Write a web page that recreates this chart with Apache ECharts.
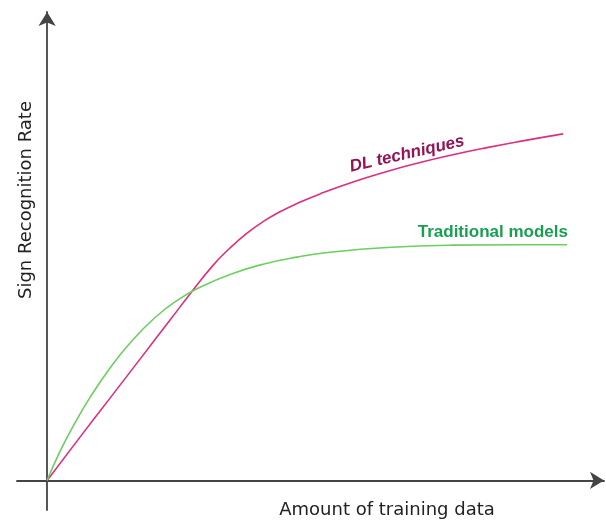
<!DOCTYPE html>
<html>
<head>
<meta charset="utf-8">
<script src="https://cdn.jsdelivr.net/npm/echarts@6/dist/echarts.min.js"></script>
<style>
html,body{margin:0;padding:0;background:#fff;}
#chart{width:606px;height:522px;}
</style>
</head>
<body>
<div id="chart"></div>
<script>
// Data (x: amount of training data, y: sign recognition rate; arbitrary units)
const dlX   = [0, 6.33, 12.11, 17.88, 23.66, 27.50, 31.93, 35.21, 38.48, 41.56, 44.83, 48.10, 52.53, 58.88, 65.42, 71.77, 78.13, 84.68, 91.03, 99.31];
const dlY   = [0, 8.78, 16.69, 24.60, 32.52, 37.81, 43.61, 47.14, 50.14, 52.47, 54.48, 56.15, 58.11, 60.53, 62.66, 64.46, 66.04, 67.49, 68.76, 70.28];
const tradX = [0, 2.48, 5.37, 8.26, 12.11, 15.96, 20.78, 25.20, 29.43, 35.21, 41.56, 48.10, 54.45, 65.42, 78.13, 91.03, 100.08];
const tradY = [0, 5.88, 11.66, 16.84, 22.80, 27.87, 33.04, 36.63, 39.17, 41.78, 43.85, 45.29, 46.27, 47.24, 47.71, 47.81, 47.81];
const seriesNames = ['DL techniques', 'Traditional models'];
const labelAt = { dl: [69.3, 66.2], trad: [85.8, 50.4] };
const xTitle = 'Amount of training data';
const yTitle = 'Sign Recognition Rate';

const zip = (xs, ys) => xs.map((x, i) => [x, ys[i]]);
const axisCommon = {
  type: 'value',
  axisLine: { show: true, onZero: true, symbol: ['none', 'arrow'], symbolSize: [13, 14],
              lineStyle: { color: '#444', width: 1.8 } },
  axisTick: { show: false },
  axisLabel: { show: false },
  splitLine: { show: false }
};
const chart = echarts.init(document.getElementById('chart'), null, { renderer: 'canvas' });
chart.setOption({
  animation: false,
  backgroundColor: '#fff',
  grid: { left: 17, right: 2, top: 12, bottom: 12, containLabel: false },
  xAxis: Object.assign({}, axisCommon, { min: -5.8, max: 107.2 }),
  yAxis: Object.assign({}, axisCommon, { min: -6, max: 95 }),
  graphic: [
    { type: 'text', x: 387, y: 510, style: { text: xTitle, font: '18px "DejaVu Sans"', fill: '#222', align: 'center', verticalAlign: 'middle' } },
    { type: 'text', x: 26, y: 200, rotation: Math.PI / 2, style: { text: yTitle, font: '18px "DejaVu Sans"', fill: '#222', align: 'center', verticalAlign: 'middle' } }
  ],
  series: [
    {
      name: seriesNames[0], type: 'line', data: zip(dlX, dlY), smooth: 0.5, showSymbol: false,
      lineStyle: { color: '#dc2f7f', width: 1.6 },
      markPoint: { symbol: 'circle', symbolSize: 0, data: [{ coord: labelAt.dl }],
        label: { show: true, formatter: seriesNames[0], rotate: 13, color: '#931456',
                 fontFamily: 'Liberation Sans', fontWeight: 'bold', fontStyle: 'italic', fontSize: 17,
                 position: 'inside' } }
    },
    {
      name: seriesNames[1], type: 'line', data: zip(tradX, tradY), smooth: 0.5, showSymbol: false,
      lineStyle: { color: '#6ccf5f', width: 1.6 },
      markPoint: { symbol: 'circle', symbolSize: 0, data: [{ coord: labelAt.trad }],
        label: { show: true, formatter: seriesNames[1], color: '#18a050',
                 fontFamily: 'Liberation Sans', fontWeight: 'bold', fontSize: 17,
                 position: 'inside' } }
    }
  ]
});
</script>
</body>
</html>
